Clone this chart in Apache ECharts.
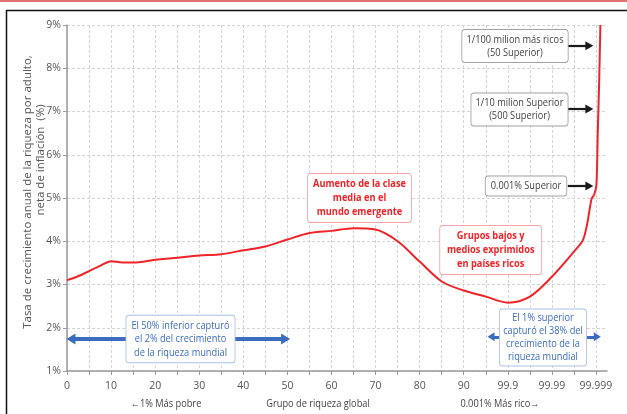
<!DOCTYPE html>
<html>
<head>
<meta charset="utf-8">
<script src="https://cdn.jsdelivr.net/npm/echarts@6.0.0/dist/echarts.min.js"></script>
<style>
html,body{margin:0;padding:0;background:#fff;}
#c{width:627px;height:414px;}
</style>
</head>
<body>
<div id="c"></div>
<script>
// ---- data ----
const groupX = [0, 2.5, 5, 7.5, 10, 12.5, 15, 20, 25, 30, 35, 40, 45, 50, 55, 60, 65, 70, 75, 80, 85, 90, 95, 100, 105, 110, 115, 117, 118, 119, 119.6, 120.1, 120.4, 120.7, 121.0];
const growthRate = [3.10, 3.19, 3.31, 3.43, 3.54, 3.51, 3.51, 3.57, 3.62, 3.67, 3.70, 3.79, 3.88, 4.04, 4.19, 4.24, 4.30, 4.27, 4.00, 3.53, 3.07, 2.86, 2.72, 2.58, 2.72, 3.18, 3.76, 4.02, 4.40, 4.98, 5.08, 5.30, 6.50, 7.60, 9.00];
const xTickValues = [0, 10, 20, 30, 40, 50, 60, 70, 80, 90, 100, 110, 120];
const xTickLabels = ['0', '10', '20', '30', '40', '50', '60', '70', '80', '90', '99.9', '99.99', '99.999'];
const xMinorTicks = [0, 5, 10, 15, 20, 25, 30, 35, 40, 45, 50, 55, 60, 65, 70, 75, 80, 85, 90, 95, 100, 105, 110, 115, 120];
const yTickLabels = ['1%', '2%', '3%', '4%', '5%', '6%', '7%', '8%', '9%'];

const FONT = '"Open Sans","Noto Sans",sans-serif';
const RED = '#f02328';
const BLUE = '#3b6cc0';
const SQUEEZE = 0.84;

const chart = echarts.init(document.getElementById('c'), null, {renderer: 'canvas'});

function box(text, x, y, color, border, bold, lh, pad) {
  return {
    type: 'text', x: x, y: y, z: 100, scaleX: SQUEEZE,
    style: {
      text: text, align: 'center', verticalAlign: 'middle',
      fill: color, font: (bold ? 'bold ' : '') + '11px ' + FONT,
      lineHeight: lh, backgroundColor: '#fff', borderColor: border,
      borderWidth: 1, borderRadius: 3, padding: pad
    }
  };
}
function plain(text, x, y) {
  return {type: 'text', x: x, y: y, z: 50, scaleX: SQUEEZE,
    style: {text: text, align: 'center', verticalAlign: 'middle', fill: '#444', font: '11px ' + FONT}};
}

const option = {
  animation: false,
  grid: {left: 67, top: 25, right: 20, bottom: 43, containLabel: false},
  xAxis: {
    type: 'value', min: 0, max: 122.5,
    axisLine: {show: true, lineStyle: {color: '#9a9a9a', width: 1.5}},
    axisTick: {show: true, length: 4, lineStyle: {color: '#9a9a9a'}, customValues: xMinorTicks},
    axisLabel: {
      customValues: xTickValues, margin: 10, color: '#555', fontSize: 10.5, fontFamily: FONT,
      formatter: function (v) { const i = xTickValues.indexOf(v); return i >= 0 ? xTickLabels[i] : ''; }
    },
    splitLine: {show: true, lineStyle: {color: '#d4d4d4', type: [3, 2], width: 1}}
  },
  yAxis: {
    type: 'value', min: 1, max: 9, interval: 1,
    axisLine: {show: true, lineStyle: {color: '#9a9a9a', width: 1.5}},
    axisTick: {show: true, length: 4, lineStyle: {color: '#9a9a9a'}},
    axisLabel: {
      margin: 6, color: '#555', fontSize: 10.5, fontFamily: FONT,
      formatter: function (v) { return yTickLabels[Math.round(v) - 1]; }
    },
    splitLine: {show: true, lineStyle: {color: '#d4d4d4', type: [3, 2], width: 1}}
  },
  series: [{
    type: 'line',
    data: groupX.map((x, i) => [x, growthRate[i]]),
    smooth: 0.3,
    showSymbol: false, symbol: 'none',
    lineStyle: {color: RED, width: 2},
    z: 5,
    markLine: {
      silent: true, animation: false,
      label: {show: false},
      data: [
        [{coord: [0.9, 1.74], symbol: 'triangle', symbolSize: [11, 9], lineStyle: {color: BLUE, width: 4, type: 'solid'}},
         {coord: [49.6, 1.74], symbol: 'triangle', symbolSize: [11, 9]}],
        [{coord: [96.2, 1.79], symbol: 'triangle', symbolSize: [9, 7], lineStyle: {color: BLUE, width: 3, type: 'solid'}},
         {coord: [120.3, 1.79], symbol: 'triangle', symbolSize: [9, 7]}],
        [{coord: [113.6, 8.52], symbol: 'none', lineStyle: {color: '#1a1a1a', width: 2.2, type: 'solid'}},
         {coord: [118.5, 8.52], symbol: 'triangle', symbolSize: [9, 8]}],
        [{coord: [113.3, 7.06], symbol: 'none', lineStyle: {color: '#1a1a1a', width: 2.2, type: 'solid'}},
         {coord: [118.5, 7.06], symbol: 'triangle', symbolSize: [9, 8]}],
        [{coord: [113.6, 5.28], symbol: 'none', lineStyle: {color: '#1a1a1a', width: 2.2, type: 'solid'}},
         {coord: [118.5, 5.28], symbol: 'triangle', symbolSize: [9, 8]}]
      ]
    }
  }],
  graphic: [
    {type: 'rect', z: -10, shape: {x: 0, y: 0, width: 627, height: 2}, style: {fill: '#e07474'}},
    {type: 'rect', z: -10, shape: {x: 6.5, y: 10.5, width: 700, height: 500}, style: {fill: 'none', stroke: '#111', lineWidth: 1.5}},
    {type: 'text', x: 28, y: 192, rotation: Math.PI / 2, z: 50,
      style: {text: 'Tasa de crecimiento anual de la riqueza por adulto,', align: 'center', verticalAlign: 'middle', fill: '#555', font: '11.5px ' + FONT}},
    {type: 'text', x: 41, y: 160, rotation: Math.PI / 2, z: 50,
      style: {text: 'neta de inflación  (%)', align: 'center', verticalAlign: 'middle', fill: '#555', font: '11.5px ' + FONT}},
    plain('←1% Más pobre', 166, 404),
    plain('Grupo de riqueza global', 318, 404),
    plain('0.001% Más rico→', 500, 404),
    box('Aumento de la clase\nmedia en el\nmundo emergente', 359.5, 198, RED, '#f5a3a5', true, 14, [3, 6]),
    box('Grupos bajos y\nmedios exprimidos\nen países ricos', 490.7, 250, RED, '#f5a3a5', true, 14, [3, 8]),
    box('El 50% inferior capturó\nel 2% del crecimiento\nde la riqueza mundial', 180.5, 339, BLUE, '#a9c0e6', false, 13.5, [3, 6]),
    box('El 1% superior\ncapturó el 38% del\ncrecimiento de la\nriqueza mundial', 543, 337.5, BLUE, '#a9c0e6', false, 13, [2, 4]),
    box('1/100 milion más ricos\n(50 Superior)', 515, 46, '#444', '#a0a0a0', false, 13, [3, 5]),
    box('1/10 milion Superior\n(500 Superior)', 519.5, 109.5, '#444', '#a0a0a0', false, 13, [3, 5]),
    box('0.001% Superior', 526, 186, '#444', '#a0a0a0', false, 13, [3, 6])
  ]
};
chart.setOption(option);
</script>
</body>
</html>
